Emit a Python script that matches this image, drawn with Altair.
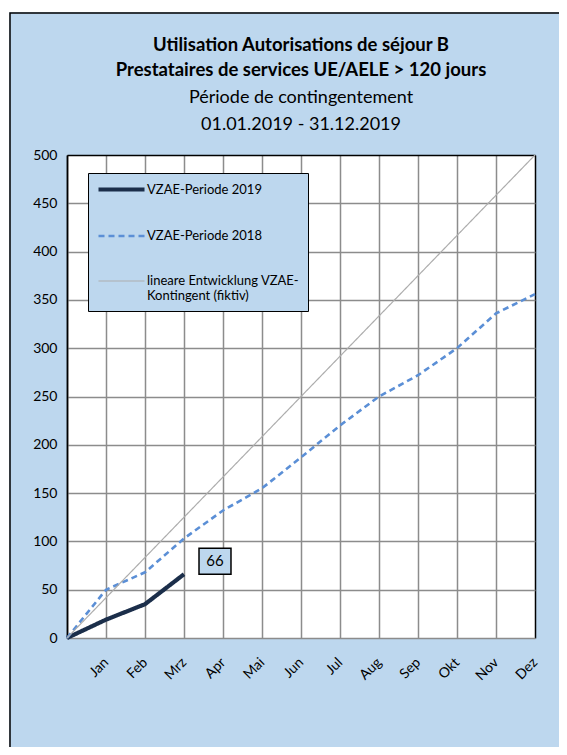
import altair as alt
import pandas as pd

# ---- data ----
months = ["Jan", "Feb", "Mrz", "Apr", "Mai", "Jun", "Jul", "Aug", "Sep", "Okt", "Nov", "Dez"]
period_2019 = [0, 19, 35, 66]
period_2018 = [0, 50, 68, 103, 132, 155, 187, 220, 250, 272, 300, 336, 356]
linear_x = [0, 12]
linear_y = [0, 500]
y_ticks = [0, 50, 100, 150, 200, 250, 300, 350, 400, 450, 500]
series_names = ["VZAE-Periode 2019", "VZAE-Periode 2018", "lineare Entwicklung VZAE-Kontingent (fiktiv)"]
series_colors = ["#1B2E4A", "#5B8FD6", "#ADADAD"]
series_widths = [4.2, 2.6, 1.2]
series_dashes = [[1, 0], [6, 4], [1, 0]]
label_value = 66
label_month = 3

title_bold = ["Utilisation Autorisations de séjour B", "Prestataires de services UE/AELE > 120 jours"]
title_normal = ["Période de contingentement", "01.01.2019 - 31.12.2019"]

BLUE = "#BDD7EE"
FONT = "Lato"

rows = []
for i, v in enumerate(period_2019):
    rows.append({"m": i, "v": v, "s": series_names[0]})
for i, v in enumerate(period_2018):
    rows.append({"m": i, "v": v, "s": series_names[1]})
for x, v in zip(linear_x, linear_y):
    rows.append({"m": x, "v": v, "s": series_names[2]})
df = pd.DataFrame(rows)

W, H = 468, 483
PAD_L, PAD_T = 59, 147
PAD_R, PAD_B = 551 - PAD_L - W, 739 - PAD_T - H

label_expr = "[''," + ",".join(f"'{m}'" for m in months) + "][datum.value]"

x_scale = alt.Scale(domain=[0, 12], nice=False, zero=False)
y_scale = alt.Scale(domain=[0, 500], nice=False)

x_enc = alt.X("m:Q", scale=x_scale, axis=alt.Axis(
    values=list(range(0, 13)), labelExpr=label_expr, title=None,
    labelAngle=-45, labelAlign="right", labelBaseline="middle",
    labelPadding=22, ticks=False, domain=False,
    labelFont=FONT, labelFontSize=14, labelColor="black",
    gridColor={"condition": {"test": "datum.value == 0 || datum.value == 12", "value": "black"}, "value": "#8C8C8C"},
    gridWidth=1.5, labelOverlap=False))
y_enc = alt.Y("v:Q", scale=y_scale, axis=alt.Axis(
    values=y_ticks, title=None, ticks=False, domain=True, domainColor="black",
    domainWidth=1.5, labelPadding=10, labelFont=FONT, labelFontSize=14,
    labelColor="black",
    gridColor={"condition": {"test": "datum.value == 500", "value": "black"}, "value": "#8C8C8C"},
    gridWidth=1.5))

one = pd.DataFrame({"a": [0]})
# decoration: outer frame line and white strips outside the blue box
frame = alt.Chart(one).mark_rect(
    fillOpacity=0, stroke="black", strokeWidth=1.5).encode(
    x=alt.value(-PAD_L + 2), y=alt.value(-PAD_T + 5),
    x2=alt.value(W + PAD_R + 60), y2=alt.value(H + PAD_B + 60))
strip_top = alt.Chart(one).mark_rect(fill="white").encode(
    x=alt.value(-PAD_L), y=alt.value(-PAD_T),
    x2=alt.value(W + PAD_R), y2=alt.value(-PAD_T + 4.2))
strip_left = alt.Chart(one).mark_rect(fill="white").encode(
    x=alt.value(-PAD_L), y=alt.value(-PAD_T),
    x2=alt.value(-PAD_L + 1.2), y2=alt.value(H + PAD_B))

# title lines as text
title_y = [-110, -85, -57, -30]
title_layers = []
for i, t in enumerate(title_bold + title_normal):
    title_layers.append(alt.Chart(pd.DataFrame({"t": [t]})).mark_text(
        font=FONT, fontSize=18.5 if i < 2 else 18, fontWeight="bold" if i < 2 else "normal",
        color="black", align="center", baseline="middle").encode(
        x=alt.value(W / 2), y=alt.value(title_y[i]), text="t:N"))

legend = alt.Legend(
    title=None, orient="none", legendX=21, legendY=18,
    fillColor=BLUE, strokeColor="black", padding=8,
    symbolType="M-1,0H6.67", symbolSize=144,
    labelFont=FONT, labelFontSize=13, labelColor="black",
    labelOffset=34, rowPadding=30.5, labelLimit=200,
    labelExpr="datum.label == 'lineare Entwicklung VZAE-Kontingent (fiktiv)' ? ['lineare Entwicklung VZAE-', 'Kontingent (fiktiv)'] : datum.label",
)

lines = alt.Chart(df).mark_line(clip=False).encode(
    x=x_enc, y=y_enc,
    color=alt.Color("s:N", scale=alt.Scale(domain=series_names, range=series_colors),
                    sort=series_names, legend=legend),
    strokeDash=alt.StrokeDash("s:N", scale=alt.Scale(domain=series_names, range=series_dashes),
                              sort=series_names, legend=legend),
    strokeWidth=alt.StrokeWidth("s:N", scale=alt.Scale(type="ordinal", domain=series_names, range=series_widths),
                                sort=series_names, legend=legend),
    order=alt.Order("m:Q"),
)

lab_df = pd.DataFrame({"m": [label_month], "v": [label_value]})
box = alt.Chart(lab_df).mark_point(
    shape="M-1.23,-1H1.23V1H-1.23Z", size=676, filled=True, fill=BLUE, opacity=1,
    stroke="black", strokeWidth=1.5, xOffset=31, yOffset=-13).encode(
    x=x_enc, y=y_enc)
txt = alt.Chart(lab_df).mark_text(
    font=FONT, fontSize=15, color="black", dx=31, dy=-13,
    align="center", baseline="middle").encode(
    x=x_enc, y=y_enc, text=alt.Text("v:Q"))

chart = alt.layer(strip_top, strip_left, frame, *title_layers, lines, box, txt).properties(
    width=W, height=H,
    autosize=alt.AutoSizeParams(type="none"),
    padding={"left": PAD_L, "top": PAD_T, "right": PAD_R, "bottom": PAD_B},
).configure(background=BLUE).configure_view(stroke=None, fill="white")

chart.save("out.html", embed_options={"renderer": "svg", "actions": False})
